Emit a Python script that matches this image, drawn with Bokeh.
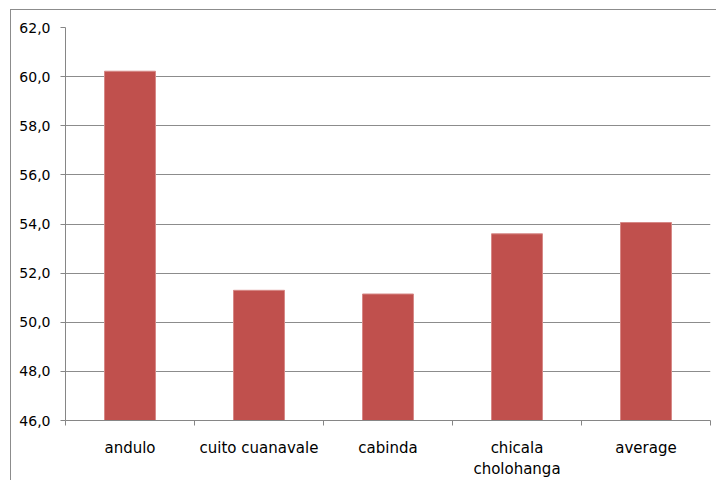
from bokeh.plotting import figure
from bokeh.models import Range1d, FixedTicker, CustomJSTickFormatter, ColumnDataSource
from bokeh.embed import file_html
from bokeh.resources import INLINE

# Data
categories = ["andulo", "cuito cuanavale", "cabinda", "chicala\ncholohanga", "average"]
values = [60.22, 51.3, 51.15, 53.6, 54.06]
y_ticks = [46, 48, 50, 52, 54, 56, 58, 60, 62]

FONT = "DejaVu Sans"
AXIS_GREY = "#868686"
BORDER_GREY = "#8c8c8c"

positions = [i + 0.5 for i in range(len(categories))]
source = ColumnDataSource(data=dict(x=positions, top=values, name=categories))

# the chart area sits inside a thin grey frame (left and top edges visible)
p = figure(width=706, height=471, output_backend="svg", toolbar_location=None,
           x_range=Range1d(0, len(categories)), y_range=Range1d(y_ticks[0], y_ticks[-1]),
           min_border_left=54, min_border_right=7, min_border_top=17, min_border_bottom=61,
           margin=(9, 0, 0, 10),
           styles={"border-left": f"1px solid {BORDER_GREY}",
                   "border-top": f"1px solid {BORDER_GREY}"})
p.outline_line_color = None
p.background_fill_color = "white"
p.border_fill_color = "white"

p.vbar(x="x", top="top", bottom=y_ticks[0], width=0.395, source=source,
       fill_color="#C0504D", line_color="#D68886", line_width=1)

# y axis
p.yaxis.ticker = FixedTicker(ticks=y_ticks)
p.yaxis.formatter = CustomJSTickFormatter(code="return tick.toFixed(1).replace('.', ',');")
p.yaxis.axis_line_color = AXIS_GREY
p.yaxis.major_tick_line_color = AXIS_GREY
p.yaxis.major_tick_out = 5
p.yaxis.major_tick_in = 0
p.yaxis.minor_tick_line_color = None
p.yaxis.major_label_standoff = 10
p.yaxis.major_label_text_font = FONT
p.yaxis.major_label_text_font_size = "14px"
p.yaxis.major_label_text_color = "#000000"

# x axis: labels at category centres, ticks on category boundaries
p.xaxis.ticker = FixedTicker(ticks=positions,
                             minor_ticks=list(range(len(categories) + 1)))
p.xaxis.formatter = CustomJSTickFormatter(
    args=dict(names=categories),
    code="const i = Math.round(tick - 0.5); return (i >= 0 && i < names.length) ? names[i] : '';")
p.xaxis.axis_line_color = AXIS_GREY
p.xaxis.major_tick_line_color = None
p.xaxis.minor_tick_line_color = AXIS_GREY
p.xaxis.minor_tick_out = 5
p.xaxis.minor_tick_in = 0
p.xaxis.major_label_standoff = 12
p.xaxis.major_label_text_font = FONT
p.xaxis.major_label_text_font_size = "15px"
p.xaxis.major_label_text_color = "#000000"

p.xgrid.grid_line_color = None
p.ygrid.grid_line_color = "#8c8c8c"
p.ygrid.grid_line_width = 1

open("out.html", "w").write(file_html(p, INLINE))
